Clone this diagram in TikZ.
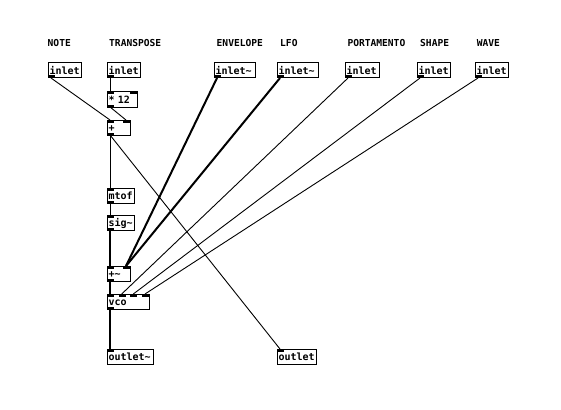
\documentclass[tikz,border=0pt]{standalone}
\usepackage{fontspec}
\newfontfamily\pdfont{DejaVu Sans Mono}
\begin{document}
\begin{tikzpicture}[x=1pt,y=-1pt,
  obj/.style={draw, line width=1pt, anchor=north west, inner xsep=1.5pt, inner ysep=0pt,
    outer sep=0pt, minimum height=15pt, text height=9pt, text depth=1.5pt, align=left,
    font=\pdfont\bfseries\fontsize{10}{10}\selectfont},
  lab/.style={anchor=base west, inner sep=0pt, font=\pdfont\bfseries\fontsize{9.6}{10}\selectfont},
  ctl/.style={line width=0.9pt},
  sigl/.style={line width=2pt},
  io/.style={fill=black}]
\fill[white] (0,0) rectangle (561,409);
\useasboundingbox (0,0) rectangle (561,409);

% labels
\node[lab] (lnote) at (47.5,47) {NOTE};
\node[lab] (ltrans) at (109,47) {TRANSPOSE};
\node[lab] (lenv) at (216.5,47) {ENVELOPE};
\node[lab] (llfo) at (280,47) {LFO};
\node[lab] (lporta) at (347.3,47) {PORTAMENTO};
\node[lab] (lshape) at (420,47) {SHAPE};
\node[lab] (lwave) at (476.7,47) {WAVE};

% objects
\node[obj, text width=30pt] (note) at (48,63) {inlet};
\node[obj, text width=30pt] (trans) at (107,63) {inlet};
\node[obj, text width=38pt] (envl) at (214,63) {inlet\textasciitilde};
\node[obj, text width=38pt] (lfo) at (277,63) {inlet\textasciitilde};
\node[obj, text width=31pt] (porta) at (345,63) {inlet};
\node[obj, text width=30pt] (shape) at (417,63) {inlet};
\node[obj, text width=30pt] (wave) at (475,63) {inlet};
\node[obj, text width=27pt] (mul) at (107,92) {*\ 12};
\node[obj, text width=20pt] (plus) at (107,120) {+};
\node[obj, text width=24pt] (mtof) at (107,188) {mtof};
\node[obj, text width=24pt] (sig) at (107,215) {sig\textasciitilde};
\node[obj, text width=20pt] (sigplus) at (107,266) {+\textasciitilde};
\node[obj, text width=39pt] (vco) at (107,294) {vco};
\node[obj, text width=43pt] (outs) at (107,349) {outlet\textasciitilde};
\node[obj, text width=36pt] (outc) at (277,349) {outlet};

% outlets
\foreach \n in {note,trans,envl,lfo,porta,shape,wave,mul,plus,mtof,sig,sigplus,vco}
  \fill[io] (\n.south west) rectangle ++(7,-2.5);
% left inlets
\foreach \n in {mul,plus,mtof,sig,sigplus,vco,outs,outc}
  \fill[io] (\n.north west) rectangle ++(7,2.5);
% right inlets
\foreach \n in {mul,plus,sigplus}
  \fill[io] (\n.north east) rectangle ++(-7,2.5);
% extra vco inlets
\foreach \dx in {11.67,23.33,35}
  \fill[io] ([xshift=\dx pt]vco.north west) rectangle ++(7,2.5);

% connections
\draw[ctl] ([xshift=3pt]note.south west) -- ([xshift=3pt]plus.north west);
\draw[ctl] ([xshift=3pt]trans.south west) -- ([xshift=3pt]mul.north west);
\draw[ctl] ([xshift=3pt]mul.south west) -- ([xshift=-4pt]plus.north east);
\draw[ctl] ([xshift=3pt]plus.south west) -- ([xshift=3pt]mtof.north west);
\draw[ctl] ([xshift=3pt]plus.south west) -- ([xshift=3pt]outc.north west);
\draw[ctl] ([xshift=3pt]mtof.south west) -- ([xshift=3pt]sig.north west);
\draw[sigl] ([xshift=3pt]sig.south west) -- ([xshift=3pt]sigplus.north west);
\draw[sigl] ([xshift=3pt]envl.south west) -- ([xshift=-4pt]sigplus.north east);
\draw[sigl] ([xshift=3pt]lfo.south west) -- ([xshift=-4pt]sigplus.north east);
\draw[ctl] ([xshift=3pt]porta.south west) -- ([xshift=14.7pt]vco.north west);
\draw[ctl] ([xshift=3pt]shape.south west) -- ([xshift=26.3pt]vco.north west);
\draw[ctl] ([xshift=3pt]wave.south west) -- ([xshift=38pt]vco.north west);
\draw[sigl] ([xshift=3pt]sigplus.south west) -- ([xshift=3pt]vco.north west);
\draw[sigl] ([xshift=3pt]vco.south west) -- ([xshift=3pt]outs.north west);
\end{tikzpicture}
\end{document}
